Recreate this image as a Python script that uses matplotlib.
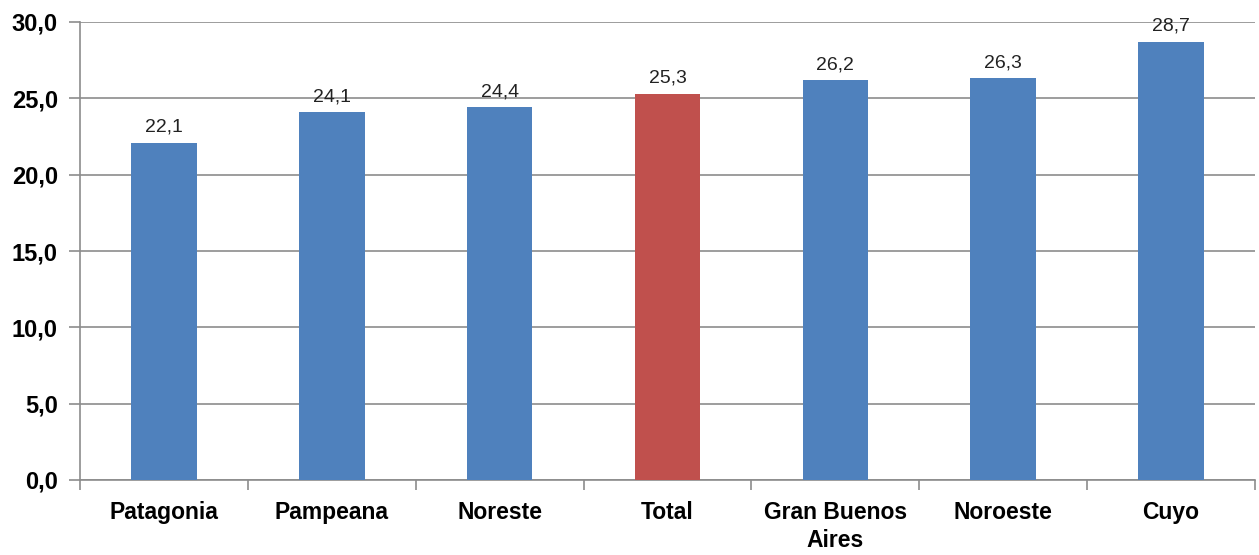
import matplotlib
matplotlib.use("Agg")
import matplotlib.pyplot as plt
import numpy as np

categories = ["Patagonia", "Pampeana", "Noreste", "Total", "Gran Buenos\nAires", "Noroeste", "Cuyo"]
values = [22.1, 24.1, 24.4, 25.3, 26.2, 26.3, 28.7]
highlight = "Total"
yticks = [0, 5, 10, 15, 20, 25, 30]

blue = "#4F81BD"
red = "#C0504D"
grid_col = "#8C8C8C"

plt.rcParams['font.family'] = ['Liberation Sans', 'DejaVu Sans']

fig = plt.figure(figsize=(12.59, 5.55), dpi=100)
ax = fig.add_axes([80/1259, 75/555, (1255-80)/1259, (480-22)/555])

x = np.arange(len(categories))
colors = [red if c == highlight else blue for c in categories]
bars = ax.bar(x, values, width=0.39, color=colors, zorder=3)

for xi, v in zip(x, values):
    ax.annotate(f"{v:.1f}".replace(".", ","), (xi, v), xytext=(0, 5), textcoords="offset points",
                ha="center", va="bottom", fontsize=14, color="#222222")

ax.set_xlim(-0.5, len(categories) - 0.5)
ax.set_ylim(0, 30)
ax.set_yticks(yticks)
ax.set_yticklabels([f"{t:.1f}".replace(".", ",") for t in yticks], fontsize=17, fontweight="bold")
ax.yaxis.grid(True, color=grid_col, linewidth=1.2, zorder=0)
ax.set_axisbelow(True)

ax.set_xticks(x)
ax.set_xticklabels(categories, fontsize=16.5, fontweight="bold", linespacing=1.3)
ax.tick_params(axis="x", length=0, pad=15)
ax.set_xticks(np.arange(-0.5, len(categories) + 0.5, 1), minor=True)
ax.tick_params(axis="x", which="minor", length=7, color=grid_col, width=1.2)
ax.tick_params(axis="y", length=8, color=grid_col, width=1.2, pad=8)

for s in ["top", "right"]:
    ax.spines[s].set_visible(False)
for s in ["left", "bottom"]:
    ax.spines[s].set_color(grid_col)
    ax.spines[s].set_linewidth(1.2)

fig.savefig("out.png", dpi=100)
